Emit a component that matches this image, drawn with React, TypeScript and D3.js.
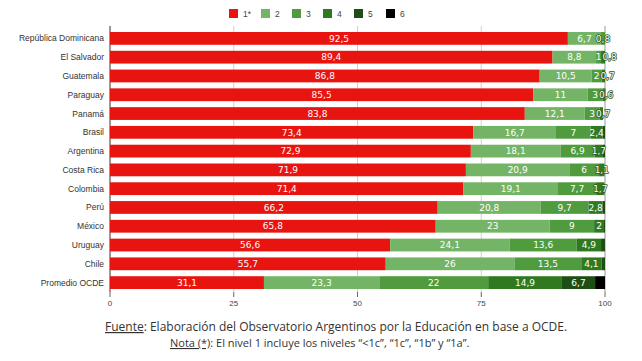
import React from "react";
import * as d3 from "d3";

const categories = [
  "República Dominicana", "El Salvador", "Guatemala", "Paraguay", "Panamá", "Brasil",
  "Argentina", "Costa Rica", "Colombia", "Perú", "México", "Uruguay", "Chile", "Promedio OCDE",
];
const levels = ["1*", "2", "3", "4", "5", "6"];
const level1 = [92.5, 89.4, 86.8, 85.5, 83.8, 73.4, 72.9, 71.9, 71.4, 66.2, 65.8, 56.6, 55.7, 31.1];
const level2 = [6.7, 8.8, 10.5, 11, 12.1, 16.7, 18.1, 20.9, 19.1, 20.8, 23, 24.1, 26, 23.3];
const level3 = [0.8, 1.0, 2.0, 3.0, 3.0, 7, 6.9, 6, 7.7, 9.7, 9, 13.6, 13.5, 22];
const level4 = [0, 0.8, 0.7, 0.6, 0.7, 2.4, 1.7, 1.1, 1.7, 2.8, 2, 4.9, 4.1, 14.9];
const level5 = [0, 0, 0, 0, 0, 0.5, 0.4, 0, 0, 0.5, 0.2, 0.8, 0.7, 6.7];
const level6 = [0, 0, 0, 0, 0, 0, 0, 0, 0, 0, 0, 0, 0, 2.0];
const xTicks = [0, 25, 50, 75, 100];

const series = [level1, level2, level3, level4, level5, level6];
const colors = ["#e8140f", "#74b466", "#4f9b3e", "#2f7a20", "#1f4e15", "#000000"];
const labelMin = [0.5, 0.5, 0.5, 0.5, 1, 100];

export default function App() {
  const W = 642, H = 361;
  const x = d3.scaleLinear().domain([0, 100]).range([110, 605]);
  const y = d3.scaleBand<string>().domain(categories).range([29, 292]).paddingInner(0.32).paddingOuter(0.16);
  const bh = y.bandwidth();
  const fmt = (v: number) => String(v).replace(".", ",");
  const textW = (s: string) => s.split("").reduce((a, ch) => a + (ch === "," ? 2.9 : 5.7), 0);
  const xEnd = x(100);

  const segs: any[] = [];
  const labels: any[] = [];
  categories.forEach((c, i) => {
    let acc = 0;
    let prevEnd = -Infinity;
    series.forEach((s, k) => {
      const v = s[i];
      if (v > 0) {
        segs.push({ c, k, v, x0: acc, x1: acc + v });
        if (v >= labelMin[k]) {
          const t = fmt(v);
          const w = textW(t);
          const cx = (x(acc) + x(acc + v)) / 2;
          const start = Math.max(cx - w / 2, prevEnd + 1);
          labels.push({ c, t, start, over: start + w > xEnd - 1 });
          prevEnd = start + w;
        }
      }
      acc += v;
    });
  });

  const legendX = [229, 261, 292, 323, 354, 386];

  return (
    <svg width={W} height={H} style={{ display: "block", position: "absolute", left: 0, top: 0 }}>
      <rect width={W} height={H} fill="#fff" />
      {levels.map((l, k) => (
        <g key={l}>
          <rect x={legendX[k]} y={9} width={9} height={9} fill={colors[k]} />
          <text x={legendX[k] + 14} y={17} fontSize={8.5} fill="#444" fontFamily="Liberation Sans, Arial, sans-serif">{l}</text>
        </g>
      ))}
      {xTicks.map((t) => (
        <g key={t}>
          <line x1={x(t)} x2={x(t)} y1={26} y2={292} stroke={t === 0 ? "#333" : t === 100 ? "#999" : "#cfcfcf"} strokeWidth={1} />
          <line x1={x(t)} x2={x(t)} y1={292} y2={297} stroke="#666" />
          <text x={x(t)} y={306} fontSize={8} textAnchor="middle" fill="#444" fontFamily="Liberation Sans, Arial, sans-serif">{t}</text>
        </g>
      ))}
      {segs.map((s, i) => (
        <rect key={i} x={x(s.x0)} y={y(s.c)!} width={x(s.x1) - x(s.x0)} height={bh} fill={colors[s.k]} />
      ))}
      {labels.map((l, i) => (
        <text key={"l" + i} x={l.start} y={y(l.c)! + bh / 2 + 3.2} fontSize={9} textAnchor="start" fill="#fff"
          stroke={l.over ? "#2f5a22" : "none"} strokeWidth={l.over ? 1.6 : 0} paintOrder="stroke" strokeLinejoin="round"
          fontFamily="DejaVu Sans, Verdana, sans-serif">{l.t}</text>
      ))}
      {categories.map((c) => (
        <text key={c} x={104} y={y(c)! + bh / 2 + 3} fontSize={8.5} textAnchor="end" fill="#333" fontFamily="Liberation Sans, Arial, sans-serif">{c}</text>
      ))}
      <text x={105} y={331} fontSize={12} fill="#333" fontFamily="Open Sans, sans-serif">
        <tspan textDecoration="underline">Fuente</tspan>: Elaboración del Observatorio Argentinos por la Educación en base a OCDE.
      </text>
      <text x={170} y={347} fontSize={11} fill="#333" fontFamily="Open Sans, sans-serif">
        <tspan textDecoration="underline">Nota (*)</tspan>: El nivel 1 incluye los niveles “&lt;1c”, “1c”, “1b” y “1a”.
      </text>
    </svg>
  );
}
